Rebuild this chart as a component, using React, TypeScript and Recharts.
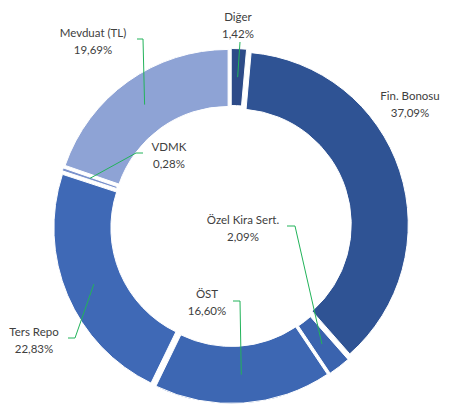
import React from 'react';
import { PieChart, Pie, Cell, Sector } from 'recharts';

const categories = ['Diğer', 'Fin. Bonosu', 'Özel Kira Sert.', 'ÖST', 'Ters Repo', 'VDMK', 'Mevduat (TL)'];
const shares = [1.42, 37.09, 2.09, 16.6, 22.83, 0.28, 19.69];
const shareLabels = ['1,42%', '37,09%', '2,09%', '16,60%', '22,83%', '0,28%', '19,69%'];

const COLORS = ['#2D4B88', '#2F5394', '#3A63AE', '#3D67B3', '#3F69B6', '#7A92CD', '#8EA3D5'];
const RAD = Math.PI / 180;
const EXPLODE = 5;
const LEADER = '#22B35A';
const TEXT = '#404040';

// text center x, first line y, leader polyline start points (chart coords)
const LABEL_LAYOUT: { x: number; y: number; pts: number[][] | null }[] = [
  { x: 230, y: 8, pts: [[232, 34]] },
  { x: 402, y: 87, pts: null },
  { x: 235, y: 211, pts: [[279, 218], [287, 218]] },
  { x: 199, y: 285, pts: [[225, 293], [232, 293]] },
  { x: 26, y: 323, pts: [[60, 330], [67, 330]] },
  { x: 161, y: 138, pts: [[135, 145], [128, 145]] },
  { x: 85, y: 24, pts: [[129, 31], [135, 31]] },
];

const data = categories.map((name, i) => ({ name, value: shares[i], label: shareLabels[i] }));

const ExplodedSector = (props: any) => {
  const { cx, cy, midAngle, innerRadius, outerRadius, startAngle, endAngle, fill } = props;
  const dx = EXPLODE * Math.cos(-midAngle * RAD);
  const dy = EXPLODE * Math.sin(-midAngle * RAD);
  return (
    <Sector
      cx={cx + dx}
      cy={cy + dy}
      innerRadius={innerRadius}
      outerRadius={outerRadius}
      startAngle={startAngle}
      endAngle={endAngle}
      fill={fill}
      stroke="#ffffff"
      strokeWidth={1}
    />
  );
};

const renderLabel = (props: any) => {
  const { cx, cy, midAngle, innerRadius, outerRadius, index } = props;
  const lay = LABEL_LAYOUT[index];
  const r = (innerRadius + outerRadius) / 2 + EXPLODE;
  const ex = cx + r * Math.cos(-midAngle * RAD);
  const ey = cy + r * Math.sin(-midAngle * RAD);
  const pts = lay.pts ? [...lay.pts, [ex, ey]].map((p) => p.join(',')).join(' ') : null;
  return (
    <g key={`lbl-${index}`}>
      {pts && <polyline points={pts} fill="none" stroke={LEADER} strokeWidth={1} />}
      <text
        x={lay.x}
        y={lay.y}
        textAnchor="middle"
        dominantBaseline="central"
        fontFamily="Lato, 'Noto Sans', sans-serif"
        fontSize={11.5}
        fill={TEXT}
      >
        {data[index].name}
      </text>
      <text
        x={lay.x}
        y={lay.y + 17}
        textAnchor="middle"
        dominantBaseline="central"
        fontFamily="Lato, 'Noto Sans', sans-serif"
        fontSize={11.5}
        fill={TEXT}
      >
        {data[index].label}
      </text>
    </g>
  );
};

export default function App() {
  return (
    <PieChart width={441} height={403} margin={{ top: 0, right: 0, bottom: 0, left: 0 }}>
      <Pie
        data={data}
        dataKey="value"
        nameKey="name"
        cx={223}
        cy={218}
        innerRadius={115.5}
        outerRadius={172.5}
        startAngle={90}
        endAngle={-270}
        stroke="#ffffff"
        strokeWidth={1}
        isAnimationActive={false}
        shape={ExplodedSector}
        activeShape={ExplodedSector}
        inactiveShape={ExplodedSector}
        label={renderLabel}
        labelLine={false}
      >
        {data.map((d, i) => (
          <Cell key={d.name} fill={COLORS[i]} />
        ))}
      </Pie>
    </PieChart>
  );
}
